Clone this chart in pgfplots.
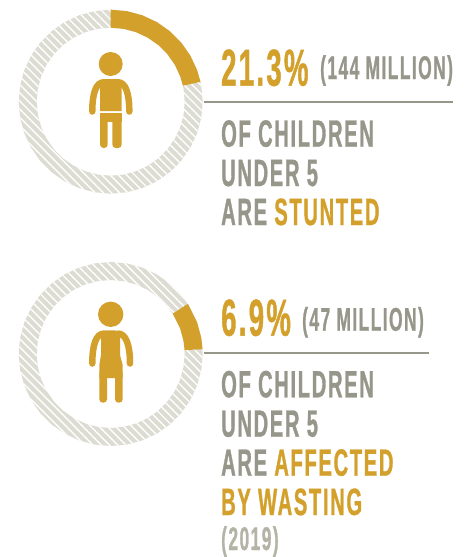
\documentclass[border=0pt]{standalone}
\usepackage{fontspec}
\setmainfont[FakeStretch=0.53,LetterSpace=4.4,BoldFont={Liberation Sans Bold},BoldFeatures={FakeStretch=0.53,LetterSpace=4.4,FakeBold=0.8}]{Liberation Sans}
\usepackage{pgfplots}
\usepackage{pgfplotstable}
\pgfplotsset{compat=1.18}
\usepgfplotslibrary{polar}
\usetikzlibrary{patterns.meta}

\definecolor{gold}{HTML}{D4A02C}
\definecolor{ringgrey}{HTML}{DCDCD3}
\definecolor{txtgrey}{HTML}{96968A}
\definecolor{notegrey}{HTML}{B4B4A6}

% background ring, outer edge then inner edge (angle, radius)
\pgfplotstableread{
a r
0 92
10 92
20 92
30 92
40 92
50 92
60 92
70 92
80 92
90 92
100 92
110 92
120 92
130 92
140 92
150 92
160 92
170 92
180 92
190 92
200 92
210 92
220 92
230 92
240 92
250 92
260 92
270 92
280 92
290 92
300 92
310 92
320 92
330 92
340 92
350 92
360 92
360 74
350 74
340 74
330 74
320 74
310 74
300 74
290 74
280 74
270 74
260 74
250 74
240 74
230 74
220 74
210 74
200 74
190 74
180 74
170 74
160 74
150 74
140 74
130 74
120 74
110 74
100 74
90 74
80 74
70 74
60 74
50 74
40 74
30 74
20 74
10 74
0 74
}\ringtable

% gold share, stunted
\pgfplotstableread{
a r
90 92
80 92
70 92
60 92
50 92
40 92
30 92
20 92
12.5 92
12.5 74
20 74
30 74
40 74
50 74
60 74
70 74
80 74
90 74
}\stuntedtable

% gold share, wasting
\pgfplotstableread{
a r
3 92
10 92
20 92
33 92
33 74
20 74
10 74
3 74
}\wastingtable

\pgfplotsset{donut/.style={
    scale only axis, width=184pt, height=184pt,
    ymin=0, ymax=92, xmin=0, xmax=360,
    hide axis, anchor=center, clip=false}}
\tikzset{
  ringfill/.style={fill=ringgrey, draw=none,
    postaction={pattern={Lines[angle=-45,distance=5.8pt,line width=1.4pt]},pattern color=white}},
  big/.style={font=\fontsize{52}{52}\selectfont\bfseries, text=gold, anchor=base west, inner sep=0pt},
  mid/.style={font=\fontsize{32.8}{33}\selectfont\bfseries, text=txtgrey, anchor=base west, inner sep=0pt},
  lab/.style={font=\fontsize{38}{38}\selectfont\bfseries, text=txtgrey, anchor=base west, inner sep=0pt},
  note/.style={font=\fontsize{32.8}{33}\selectfont\bfseries, text=notegrey, anchor=base west, inner sep=0pt}}

\begin{document}
\begin{tikzpicture}[x=1pt,y=1pt]
\path[use as bounding box] (0,0) rectangle (466,557);

\begin{polaraxis}[donut, at={(110.7pt,455.3pt)}]
\addplot[ringfill] table[x=a,y=r] {\ringtable} -- cycle;
\addplot[fill=gold, draw=none] table[x=a,y=r] {\stuntedtable} -- cycle;
\end{polaraxis}

\begin{polaraxis}[donut, at={(110.7pt,203pt)}]
\addplot[ringfill] table[x=a,y=r] {\ringtable} -- cycle;
\addplot[fill=gold, draw=none] table[x=a,y=r] {\wastingtable} -- cycle;
\end{polaraxis}

% canvas axis in picture pixels, y running down
\begin{axis}[at={(0pt,0pt)}, anchor=south west, scale only axis, width=466pt, height=557pt,
    xmin=0, xmax=466, ymin=0, ymax=557, y dir=reverse, hide axis, clip=false]

% rules
\addplot[txtgrey, line width=2pt] coordinates {(204,102.3) (453,102.3)};
\addplot[txtgrey, line width=2pt] coordinates {(204,352.7) (429,352.7)};

% child 1
\fill[gold] (axis cs:110.7,64) circle[radius=12pt];
\fill[gold] (axis cs:100,111) -- (axis cs:100,85) .. controls (axis cs:100,80) and (axis cs:102,79) .. (axis cs:106,79)
  -- (axis cs:116,79) .. controls (axis cs:119.5,79) and (axis cs:121.7,80) .. (axis cs:121.7,85) -- (axis cs:121.7,111) -- cycle;
\draw[gold, line width=6.5pt, line cap=round] (axis cs:92.3,111.5) .. controls (axis cs:92.3,93) and (axis cs:96,82.3) .. (axis cs:104,82.3);
\draw[gold, line width=6.5pt, line cap=round] (axis cs:129.3,111.5) .. controls (axis cs:129.3,93) and (axis cs:125.5,82.3) .. (axis cs:118,82.3);
\fill[gold] (axis cs:100,112.7) rectangle (axis cs:121.7,122);
\fill[gold, rounded corners=3.5pt] (axis cs:100,115) rectangle (axis cs:107.7,148);
\fill[gold, rounded corners=3.5pt] (axis cs:112.3,115) rectangle (axis cs:121.7,148);

% child 2
\fill[gold] (axis cs:110.7,314.3) circle[radius=12.7pt];
\fill[gold] (axis cs:99.3,378) -- (axis cs:99.3,365) -- (axis cs:101,355) -- (axis cs:101,337) .. controls (axis cs:101,332) and (axis cs:103,330.3) .. (axis cs:107,330.3)
  -- (axis cs:115,330.3) .. controls (axis cs:118,330.3) and (axis cs:120,332) .. (axis cs:120,337) -- (axis cs:120,355) -- (axis cs:122.7,365) -- (axis cs:122.7,378) -- cycle;
\draw[gold, line width=6.5pt, line cap=round] (axis cs:92.3,363.5) .. controls (axis cs:92.3,345) and (axis cs:96,333.6) .. (axis cs:104,333.6);
\draw[gold, line width=6.5pt, line cap=round] (axis cs:130,363.5) .. controls (axis cs:130,345) and (axis cs:126,333.6) .. (axis cs:118,333.6);
\fill[gold, rounded corners=3.5pt] (axis cs:99.3,370) rectangle (axis cs:107,402.7);
\fill[gold, rounded corners=3.5pt] (axis cs:115,370) rectangle (axis cs:122.7,402.7);

% text, first block
\node[big] at (axis cs:221,85.7) {21.3\%};
\node[mid] at (axis cs:320,79) {(144 MILLION)};
\node[lab] at (axis cs:221,146.7) {OF CHILDREN};
\node[lab] at (axis cs:221,186) {UNDER 5};
\node[lab] at (axis cs:221,225) {ARE \textcolor{gold}{STUNTED}};

% text, second block
\node[big] at (axis cs:221,335.7) {6.9\%};
\node[mid] at (axis cs:302,330.7) {(47 MILLION)};
\node[lab] at (axis cs:221,397.3) {OF CHILDREN};
\node[lab] at (axis cs:221,436.7) {UNDER 5};
\node[lab] at (axis cs:221,475.7) {ARE \textcolor{gold}{AFFECTED}};
\node[lab, text=gold] at (axis cs:221,515) {BY WASTING};
\node[note] at (axis cs:221,550) {(2019)};
\end{axis}
\end{tikzpicture}
\end{document}
